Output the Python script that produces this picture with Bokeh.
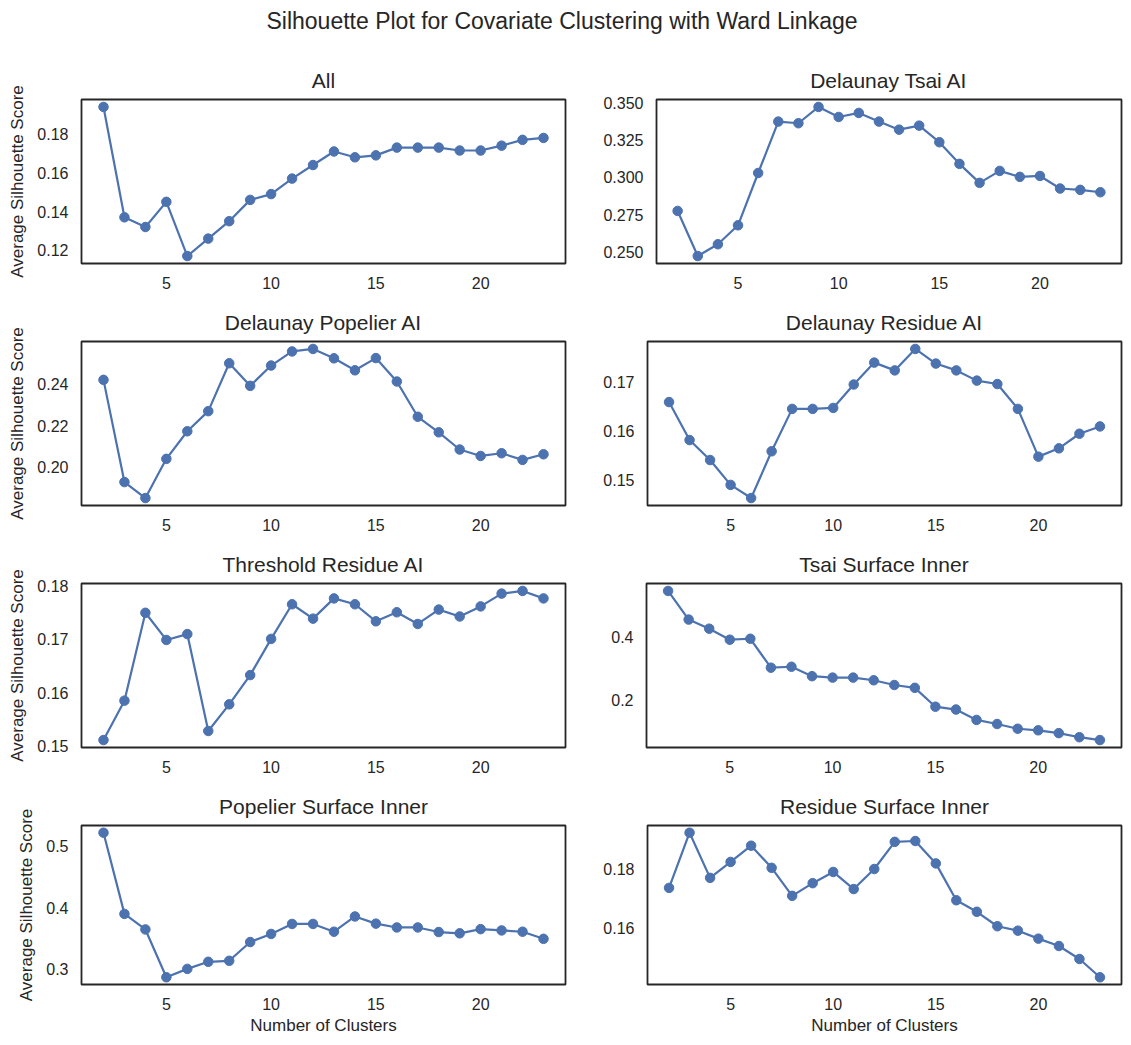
from bokeh.plotting import figure
from bokeh.layouts import column, row
from bokeh.models import Range1d, FixedTicker
from bokeh.embed import file_html
from bokeh.resources import INLINE

SUPTITLE = "Silhouette Plot for Covariate Clustering with Ward Linkage"
X_LABEL = "Number of Clusters"
Y_LABEL = "Average Silhouette Score"

clusters = list(range(2, 24))
x_ticks = [5, 10, 15, 20]

titles = ["All", "Delaunay Tsai AI", "Delaunay Popelier AI", "Delaunay Residue AI",
          "Threshold Residue AI", "Tsai Surface Inner", "Popelier Surface Inner",
          "Residue Surface Inner"]

all_scores = [0.194, 0.137, 0.132, 0.145, 0.117, 0.126, 0.135, 0.146, 0.149, 0.157,
              0.164, 0.171, 0.168, 0.169, 0.173, 0.173, 0.173, 0.1715, 0.1715, 0.174,
              0.177, 0.178]
delaunay_tsai = [0.2775, 0.2473, 0.2552, 0.2679, 0.3029, 0.3373, 0.3362, 0.3471, 0.3404,
                 0.3431, 0.3373, 0.3319, 0.3346, 0.3235, 0.3090, 0.2963, 0.3043, 0.3003,
                 0.3009, 0.2925, 0.2916, 0.2900]
delaunay_popelier = [0.2421, 0.1928, 0.1851, 0.2040, 0.2173, 0.2270, 0.2501, 0.2392,
                     0.2490, 0.2558, 0.2570, 0.2525, 0.2467, 0.2526, 0.2413, 0.2243,
                     0.2168, 0.2085, 0.2054, 0.2067, 0.2035, 0.2062]
delaunay_residue = [0.1659, 0.1581, 0.1540, 0.1489, 0.1462, 0.1558, 0.1645, 0.1645,
                    0.1647, 0.1695, 0.1740, 0.1724, 0.1768, 0.1738, 0.1724, 0.1703,
                    0.1696, 0.1645, 0.1547, 0.1564, 0.1594, 0.1609]
threshold_residue = [0.1511, 0.1585, 0.1750, 0.1699, 0.1710, 0.1528, 0.1578, 0.1633,
                     0.1701, 0.1766, 0.1739, 0.1777, 0.1766, 0.1734, 0.1751, 0.1729,
                     0.1756, 0.1743, 0.1762, 0.1786, 0.1791, 0.1777]
tsai_surface = [0.547, 0.456, 0.427, 0.392, 0.395, 0.303, 0.306, 0.276, 0.2715, 0.2715,
                0.263, 0.248, 0.239, 0.179, 0.170, 0.137, 0.124, 0.109, 0.104, 0.095,
                0.082, 0.073]
popelier_surface = [0.5215, 0.3900, 0.3648, 0.2873, 0.3009, 0.3124, 0.3140, 0.3444,
                    0.3575, 0.3737, 0.3737, 0.3611, 0.3858, 0.3742, 0.3680, 0.3680,
                    0.3606, 0.3585, 0.3653, 0.3632, 0.3611, 0.3496]
residue_surface = [0.1736, 0.1923, 0.1770, 0.1824, 0.1879, 0.1804, 0.1709, 0.1752,
                   0.1790, 0.1732, 0.1800, 0.1892, 0.1895, 0.1819, 0.1694, 0.1655,
                   0.1606, 0.1591, 0.1564, 0.1539, 0.1495, 0.1433]

series = [all_scores, delaunay_tsai, delaunay_popelier, delaunay_residue,
          threshold_residue, tsai_surface, popelier_surface, residue_surface]

y_ticks = [
    [0.12, 0.14, 0.16, 0.18],
    [0.250, 0.275, 0.300, 0.325, 0.350],
    [0.20, 0.22, 0.24],
    [0.15, 0.16, 0.17],
    [0.15, 0.16, 0.17, 0.18],
    [0.2, 0.4],
    [0.3, 0.4, 0.5],
    [0.16, 0.18],
]
y_tick_labels = [
    ["0.12", "0.14", "0.16", "0.18"],
    ["0.250", "0.275", "0.300", "0.325", "0.350"],
    ["0.20", "0.22", "0.24"],
    ["0.15", "0.16", "0.17"],
    ["0.15", "0.16", "0.17", "0.18"],
    ["0.2", "0.4"],
    ["0.3", "0.4", "0.5"],
    ["0.16", "0.18"],
]

BLUE = "#4C72B0"
DARK = "#262626"
FONT = "Liberation Sans"


def padded(vals, frac=0.05):
    lo, hi = min(vals), max(vals)
    span = hi - lo
    return Range1d(lo - frac * span, hi + frac * span)


def make_panel(i):
    left_col = (i % 2 == 0)
    bottom_row = (i >= 6)
    if left_col:
        w, mbl, mbr = 600, 81, 35
    else:
        w, mbl, mbr = 523, 46, 2
    h, mbb = (252, 48) if bottom_row else (242, 38)
    p = figure(width=w, height=h, toolbar_location=None, output_backend="svg",
               x_range=padded(clusters), y_range=padded(series[i]),
               min_border_left=mbl, min_border_right=mbr,
               min_border_top=40, min_border_bottom=mbb)
    p.title.text = titles[i]
    p.title.align = "center"
    p.title.text_font = FONT
    p.title.text_font_size = "21px"
    p.title.text_font_style = "normal"
    p.title.text_color = DARK
    p.title.standoff = 15
    p.xgrid.visible = False
    p.ygrid.visible = False
    p.outline_line_color = DARK
    p.outline_line_width = 1.8
    p.background_fill_color = "white"
    p.border_fill_color = "white"
    for ax in (p.xaxis[0], p.yaxis[0]):
        ax.axis_line_color = None
        ax.major_tick_line_color = None
        ax.minor_tick_line_color = None
        ax.major_label_text_font = FONT
        ax.major_label_text_font_size = "16px"
        ax.major_label_text_color = DARK
        ax.axis_label_text_font = FONT
        ax.axis_label_text_font_size = "17px"
        ax.axis_label_text_font_style = "normal"
        ax.axis_label_text_color = DARK
    p.xaxis.major_label_standoff = 7
    p.yaxis.major_label_standoff = 7
    p.xaxis.ticker = FixedTicker(ticks=x_ticks)
    p.yaxis.ticker = FixedTicker(ticks=y_ticks[i])
    p.yaxis.major_label_overrides = dict(zip(y_ticks[i], y_tick_labels[i]))
    if left_col:
        p.yaxis.axis_label = Y_LABEL
        p.yaxis.axis_label_standoff = 7
    if bottom_row:
        p.xaxis.axis_label = X_LABEL
        p.xaxis.axis_label_standoff = 3
    p.line(clusters, series[i], line_color=BLUE, line_width=2.2)
    p.scatter(clusters, series[i], size=9.5, fill_color=BLUE, line_color=BLUE)
    return p


panels = [make_panel(i) for i in range(8)]

head = figure(width=1123, height=59, toolbar_location=None, output_backend="svg",
              min_border=0, x_range=Range1d(0, 1), y_range=Range1d(0, 1))
head.title.text = SUPTITLE
head.title.align = "center"
head.title.text_font = FONT
head.title.text_font_size = "23px"
head.title.text_font_style = "normal"
head.title.text_color = DARK
head.title.offset = 0
head.axis.visible = False
head.grid.visible = False
head.outline_line_color = None
head.border_fill_color = "white"

layout = column(head,
                row(panels[0], panels[1]),
                row(panels[2], panels[3]),
                row(panels[4], panels[5]),
                row(panels[6], panels[7]))

open("out.html", "w").write(file_html(layout, INLINE))
